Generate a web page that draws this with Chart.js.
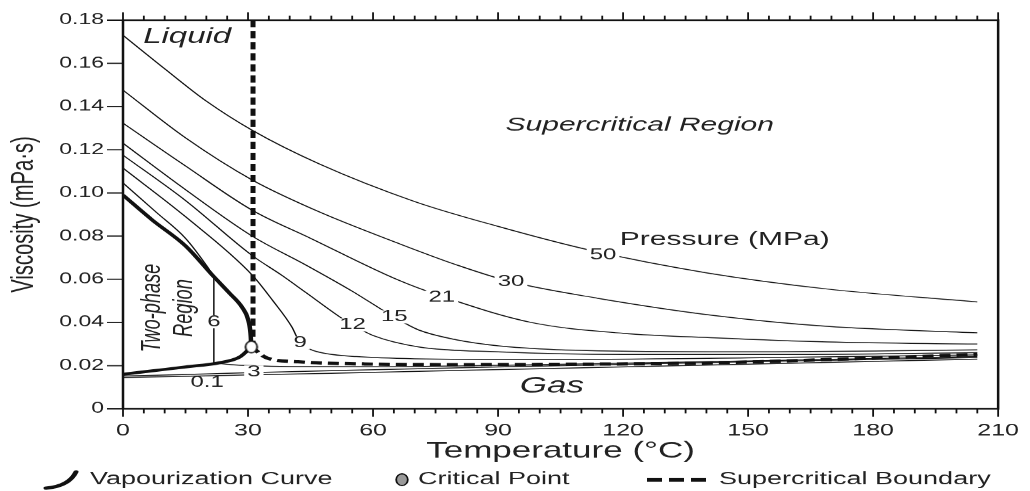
<!DOCTYPE html>
<html>
<head>
<meta charset="utf-8">
<title>CO2 viscosity</title>
<script src="https://cdn.jsdelivr.net/npm/chart.js@4.4.1/dist/chart.umd.min.js"></script>
<style>
  html, body { margin: 0; padding: 0; background: #fff; overflow: hidden; }
  /* the source figure is squashed vertically, so draw tall and squash it the same way */
  #wrap { width: 1030px; height: 755px; transform: scaleY(0.65); transform-origin: 0 0; }
</style>
</head>
<body>
<div id="wrap"><canvas id="chart" width="1030" height="755"></canvas></div>
<script>
  // temperatures (°C) and viscosities (mPa·s)
  const t50 = [0, 10, 20, 31, 47, 70, 90, 112, 140, 169, 205];
  const v50 = [0.173, 0.1575, 0.1425, 0.129, 0.1135, 0.096, 0.0845, 0.0735, 0.063, 0.0555, 0.0495];

  const t30 = [0, 15, 31, 47, 66, 80, 93, 114, 142, 169, 205];
  const v30 = [0.1476, 0.1255, 0.106, 0.0913, 0.0767, 0.0667, 0.0589, 0.0512, 0.0432, 0.0382, 0.0352];

  const t21 = [0, 15, 31, 45, 66, 77, 98, 120, 142, 169, 205];
  const v21 = [0.1323, 0.1125, 0.092, 0.079, 0.0597, 0.0518, 0.040, 0.035, 0.0329, 0.031, 0.030];

  const t15 = [0, 15, 31, 44, 55, 65, 71, 80, 90, 100, 120, 150, 205];
  const v15 = [0.123, 0.1015, 0.080, 0.0665, 0.0545, 0.0426, 0.0365, 0.032, 0.0292, 0.0278, 0.0267, 0.0264, 0.0273];

  const t12 = [0, 15, 31, 38, 44, 52, 55, 60, 71, 90, 120, 160, 205];
  const v12 = [0.1175, 0.0965, 0.071, 0.062, 0.0537, 0.0426, 0.039, 0.034, 0.0287, 0.0264, 0.0252, 0.0252, 0.026];

  const t9 = [0, 15, 31, 36, 40.5, 42.5, 45, 49, 56, 70, 100, 150, 205];
  const v9 = [0.1115, 0.089, 0.062, 0.050, 0.038, 0.0305, 0.0275, 0.0255, 0.0242, 0.0232, 0.0228, 0.0236, 0.025];

  const t6Liquid = [0, 8, 15, 20, 21.8];
  const v6Liquid = [0.1046, 0.091, 0.079, 0.0665, 0.0612];
  const t6Gas = [21.8, 26, 31, 40, 60, 100, 150, 205];
  const v6Gas = [0.0212, 0.0205, 0.0200, 0.0196, 0.0195, 0.0205, 0.0222, 0.0242];

  const t3 = [0, 20, 31, 50, 100, 150, 205];
  const v3 = [0.0152, 0.0162, 0.0168, 0.0177, 0.0198, 0.0218, 0.0238];

  const t01 = [0, 20, 50, 100, 150, 205];
  const v01 = [0.0145, 0.0153, 0.0165, 0.0186, 0.0207, 0.0230];

  // saturation curve, liquid branch and gas branch, meeting at the critical point
  const tVapLiq = [0, 7, 15, 21.8, 25.5, 28.6, 30.0, 30.6, 30.8];
  const vVapLiq = [0.099, 0.0875, 0.0755, 0.0612, 0.0537, 0.047, 0.0415, 0.035, 0.0287];
  const tVapGas = [0, 7, 15, 23, 28, 30.8];
  const vVapGas = [0.016, 0.0176, 0.0194, 0.0213, 0.024, 0.0287];

  const tCrit = [30.8];
  const vCrit = [0.0287];

  const tBoundVert = [31.2, 31.2];
  const vBoundVert = [0.18, 0.0287];
  const tBoundGas = [30.8, 34.5, 42, 58, 80, 100, 142, 175, 205];
  const vBoundGas = [0.0287, 0.0236, 0.0218, 0.0208, 0.0205, 0.0206, 0.0213, 0.0232, 0.0252];

  // isobar labels: text, T, viscosity, white knock-out behind it
  const curveLabels = [
    ['50', 115.2, 0.0713, true],
    ['30', 93.1, 0.0589, true],
    ['21', 76.5, 0.0518, true],
    ['15', 65.1, 0.0426, true],
    ['12', 55.1, 0.0389, true],
    ['9', 42.5, 0.0305, true],
    ['6', 21.8, 0.0403, true],
    ['3', 31.4, 0.0171, true],
    ['0.1', 20.2, 0.0122, false],
  ];

  const xTicks = [0, 30, 60, 90, 120, 150, 180, 210];
  const yTicks = [0, 0.02, 0.04, 0.06, 0.08, 0.10, 0.12, 0.14, 0.16, 0.18];

  const FONT = "'Liberation Sans', Arial, Helvetica, sans-serif";
  const INK = '#111';
  const TEXT = '#222';

  function pts(ts, vs) {
    return ts.map((t, i) => ({ x: t, y: vs[i] }));
  }

  function curve(ts, vs, width) {
    return {
      data: pts(ts, vs),
      showLine: true,
      borderColor: INK,
      borderWidth: width || 1.5,
      pointRadius: 0,
      cubicInterpolationMode: 'monotone',
    };
  }

  // open circle, drawn tall so the vertical squash makes it round
  function critIcon(fill) {
    const c = document.createElement('canvas');
    c.width = 16; c.height = 22;
    const g = c.getContext('2d');
    g.beginPath();
    g.ellipse(8, 11, 5.8, 9, 0, 0, Math.PI * 2);
    g.fillStyle = fill;
    g.fill();
    g.lineWidth = 1.8;
    g.strokeStyle = INK;
    g.stroke();
    return c;
  }

  const datasets = [
    { label: 'Critical Point', data: pts(tCrit, vCrit), showLine: false,
      pointStyle: critIcon('#fff'), pointRadius: 6 },
    Object.assign(curve(tVapLiq, vVapLiq, 4.5), { label: 'Vapourization Curve' }),
    curve(tVapGas, vVapGas, 4.5),
    { label: 'Supercritical Boundary', data: pts(tBoundVert, vBoundVert), showLine: true,
      borderColor: INK, borderWidth: 5, borderDash: [11, 6], pointRadius: 0 },
    Object.assign(curve(tBoundGas, vBoundGas, 5), { borderDash: [11, 6] }),
    curve(t50, v50),
    curve(t30, v30),
    curve(t21, v21),
    curve(t15, v15),
    curve(t12, v12),
    curve(t9, v9),
    curve(t6Liquid, v6Liquid),
    { data: [pts(t6Liquid, v6Liquid).pop(), pts(t6Gas, v6Gas)[0]], showLine: true,
      borderColor: INK, borderWidth: 1.5, pointRadius: 0 },
    curve(t6Gas, v6Gas),
    curve(t3, v3),
    curve(t01, v01),
  ];

  // isobar numbers with a white knock-out, plus region names
  const annotations = {
    id: 'annotations',
    afterDatasetsDraw(chart) {
      const { ctx, scales: { x, y } } = chart;
      ctx.save();
      ctx.textAlign = 'center';
      ctx.textBaseline = 'middle';

      ctx.font = '24px ' + FONT;
      curveLabels.forEach(([txt, t, v, bg]) => {
        const px = x.getPixelForValue(t), py = y.getPixelForValue(v);
        if (bg) {
          const w = ctx.measureText(txt).width + 6;
          ctx.fillStyle = '#fff';
          ctx.fillRect(px - w / 2, py - 10, w, 20);
        }
        ctx.fillStyle = TEXT;
        ctx.fillText(txt, px, py);
      });

      const put = (txt, font, t, v, rot) => {
        ctx.save();
        ctx.font = font;
        ctx.fillStyle = TEXT;
        ctx.translate(x.getPixelForValue(t), y.getPixelForValue(v));
        if (rot) ctx.rotate(rot);
        ctx.fillText(txt, 0, 0);
        ctx.restore();
      };
      put('Liquid', 'italic 33px ' + FONT, 15.4, 0.1721);
      put('Supercritical Region', 'italic 30px ' + FONT, 124, 0.1314);
      put('Pressure (MPa)', '30px ' + FONT, 144.4, 0.0782);
      put('Gas', 'italic 35px ' + FONT, 102.9, 0.0106);
      put('Two-phase', 'italic 28px ' + FONT, 7.1, 0.0467, -Math.PI / 2);
      put('Region', 'italic 28px ' + FONT, 14.7, 0.0467, -Math.PI / 2);
      ctx.restore();
    },
  };

  // box round the plot, outward tick marks, and the legend row underneath
  const frame = {
    id: 'frame',
    afterDraw(chart) {
      const { ctx, chartArea: a, scales: { x, y } } = chart;
      ctx.save();
      ctx.strokeStyle = INK;
      ctx.lineWidth = 2.5;
      ctx.strokeRect(a.left, a.top, a.right - a.left, a.bottom - a.top);

      ctx.lineWidth = 1.8;
      ctx.beginPath();
      for (let t = 0; t <= 210; t += 5) {
        const xp = x.getPixelForValue(t);
        const len = xTicks.includes(t) ? 12 : 7;
        ctx.moveTo(xp, a.bottom); ctx.lineTo(xp, a.bottom + len);
        ctx.moveTo(xp, a.top); ctx.lineTo(xp, a.top - len);
      }
      yTicks.forEach(v => {
        const yp = y.getPixelForValue(v);
        ctx.moveTo(a.left - 16, yp); ctx.lineTo(a.left, yp);
      });
      ctx.stroke();

      // legend
      const ly = 738;
      ctx.lineCap = 'round';
      ctx.lineWidth = 5;
      ctx.beginPath();
      ctx.moveTo(46, 751);
      ctx.quadraticCurveTo(69, 748, 76, 726);
      ctx.stroke();

      ctx.drawImage(critIcon('#9a9a9a'), 394, ly - 11);

      ctx.lineCap = 'butt';
      ctx.lineWidth = 6;
      ctx.setLineDash([15, 7]);
      ctx.beginPath();
      ctx.moveTo(647, ly); ctx.lineTo(706, ly);
      ctx.stroke();
      ctx.setLineDash([]);

      ctx.font = '27px ' + FONT;
      ctx.fillStyle = TEXT;
      ctx.textBaseline = 'middle';
      ctx.fillText('Vapourization Curve', 90, ly);
      ctx.fillText('Critical Point', 418, ly);
      ctx.fillText('Supercritical Boundary', 719, ly);
      ctx.restore();
    },
  };

  new Chart(document.getElementById('chart'), {
    type: 'scatter',
    data: { datasets },
    plugins: [annotations, frame],
    options: {
      responsive: false,
      animation: false,
      layout: { padding: { left: 0, right: 9, top: 31, bottom: 40 } },
      plugins: { legend: { display: false }, tooltip: { enabled: false } },
      scales: {
        x: {
          type: 'linear', min: 0, max: 210,
          grid: { display: false }, border: { display: false },
          afterBuildTicks: s => { s.ticks = xTicks.map(v => ({ value: v })); },
          ticks: { padding: 11, color: TEXT, font: { family: FONT, size: 25 }, maxRotation: 0, autoSkip: false },
          title: { display: true, text: 'Temperature (°C)', color: TEXT,
                   font: { family: FONT, size: 35 }, padding: { top: 0, bottom: 0 } },
          afterFit: s => { s.height = 86; },
        },
        y: {
          type: 'linear', min: 0, max: 0.18,
          grid: { display: false }, border: { display: false },
          afterBuildTicks: s => { s.ticks = yTicks.map(v => ({ value: v })); },
          ticks: { padding: 11, color: TEXT, font: { family: FONT, size: 23 },
                   callback: v => v === 0 ? '0' : v.toFixed(2) },
          title: { display: true, text: 'Viscosity (mPa·s)', color: TEXT,
                   font: { family: FONT, size: 31 }, padding: { top: 6, bottom: 0 } },
          afterFit: s => { s.width = 123; },
        },
      },
    },
  });
</script>
</body>
</html>
